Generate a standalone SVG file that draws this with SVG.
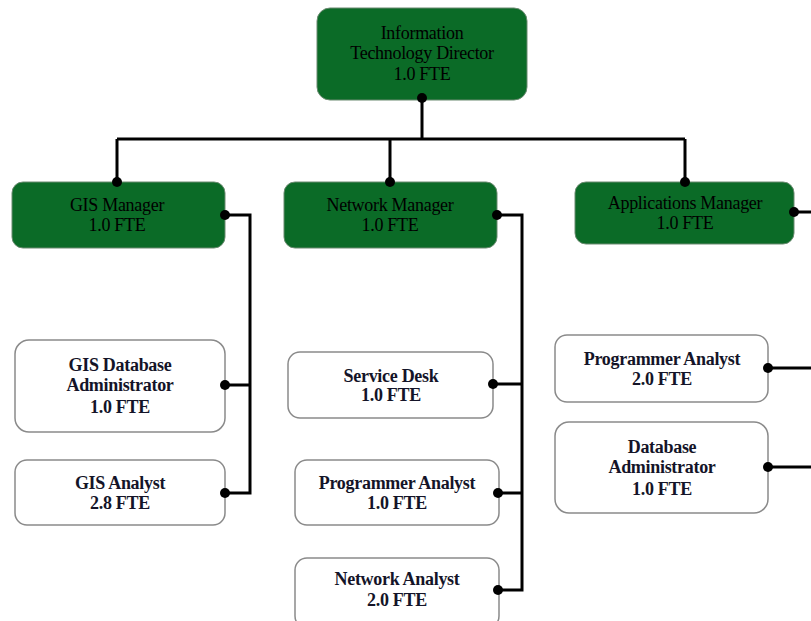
<svg xmlns="http://www.w3.org/2000/svg" width="811" height="621" viewBox="0 0 811 621">
<style>
.g{fill:#0b6b27;stroke:#6a8a70;stroke-width:1}
.w{fill:#fff;stroke:#8a8a8a;stroke-width:1.5}
.tg{font-family:"Liberation Serif",serif;font-size:18px;fill:#000;text-anchor:middle;letter-spacing:-0.3px}
.tw{font-family:"Liberation Serif",serif;font-size:18px;font-weight:bold;fill:#141428;text-anchor:middle;letter-spacing:-0.3px}
.c{fill:none;stroke:#000;stroke-width:3}
.d{fill:#000}
</style>
<rect width="811" height="621" fill="#fff"/>
<g id="director">
<rect class="g" x="317" y="8" width="210" height="92" rx="13"/>
<text class="tg" x="422" y="39">Information</text>
<text class="tg" x="422" y="59">Technology Director</text>
<text class="tg" x="422" y="80">1.0 FTE</text>
</g>
<g id="gis-manager">
<rect class="g" x="12" y="182" width="213" height="66" rx="11"/>
<text class="tg" x="117" y="211">GIS Manager</text>
<text class="tg" x="117" y="231">1.0 FTE</text>
</g>
<g id="network-manager">
<rect class="g" x="284" y="182" width="213" height="66" rx="11"/>
<text class="tg" x="390" y="211">Network Manager</text>
<text class="tg" x="390" y="231">1.0 FTE</text>
</g>
<g id="applications-manager">
<rect class="g" x="575" y="182" width="219" height="62" rx="11"/>
<text class="tg" x="685" y="209">Applications Manager</text>
<text class="tg" x="685" y="229">1.0 FTE</text>
</g>
<g id="gis-db-admin">
<rect class="w" x="15" y="340" width="210" height="92" rx="14"/>
<text class="tw" x="120" y="371">GIS Database</text>
<text class="tw" x="120" y="391">Administrator</text>
<text class="tw" x="120" y="413">1.0 FTE</text>
</g>
<g id="gis-analyst">
<rect class="w" x="15" y="460" width="210" height="65" rx="12"/>
<text class="tw" x="120" y="489">GIS Analyst</text>
<text class="tw" x="120" y="509">2.8 FTE</text>
</g>
<g id="service-desk">
<rect class="w" x="288" y="352" width="205" height="66" rx="12"/>
<text class="tw" x="391" y="382">Service Desk</text>
<text class="tw" x="391" y="401">1.0 FTE</text>
</g>
<g id="net-programmer-analyst">
<rect class="w" x="295" y="460" width="204" height="65" rx="12"/>
<text class="tw" x="397" y="489">Programmer Analyst</text>
<text class="tw" x="397" y="509">1.0 FTE</text>
</g>
<g id="network-analyst">
<rect class="w" x="295" y="558" width="204" height="70" rx="12"/>
<text class="tw" x="397" y="585">Network Analyst</text>
<text class="tw" x="397" y="606">2.0 FTE</text>
</g>
<g id="app-programmer-analyst">
<rect class="w" x="555" y="335" width="213" height="67" rx="12"/>
<text class="tw" x="662" y="365">Programmer Analyst</text>
<text class="tw" x="662" y="385">2.0 FTE</text>
</g>
<g id="app-db-admin">
<rect class="w" x="555" y="422" width="213" height="91" rx="14"/>
<text class="tw" x="662" y="453">Database</text>
<text class="tw" x="662" y="473">Administrator</text>
<text class="tw" x="662" y="495">1.0 FTE</text>
</g>
<g id="connectors">
<path class="c" d="M422,98 V139 M117,139 H685 M117,139 V182 M390,139 V182 M685,139 V182"/>
<path class="c" d="M225,215 H250 V493 H225 M225,385 H250"/>
<path class="c" d="M497,215 H522 V590 H498 M493,384 H522 M498,493 H522"/>
<path class="c" d="M794,212 H811 M768,368 H811 M768,467 H811"/>
<circle class="d" cx="422" cy="98" r="5"/>
<circle class="d" cx="117" cy="182" r="5"/>
<circle class="d" cx="390" cy="182" r="5"/>
<circle class="d" cx="685" cy="182" r="5"/>
<circle class="d" cx="225" cy="215" r="5"/>
<circle class="d" cx="497" cy="215" r="5"/>
<circle class="d" cx="794" cy="212" r="5"/>
<circle class="d" cx="225" cy="385" r="5"/>
<circle class="d" cx="225" cy="493" r="5"/>
<circle class="d" cx="493" cy="384" r="5"/>
<circle class="d" cx="498" cy="493" r="5"/>
<circle class="d" cx="498" cy="590" r="5"/>
<circle class="d" cx="768" cy="368" r="5"/>
<circle class="d" cx="768" cy="467" r="5"/>
</g>
</svg>
